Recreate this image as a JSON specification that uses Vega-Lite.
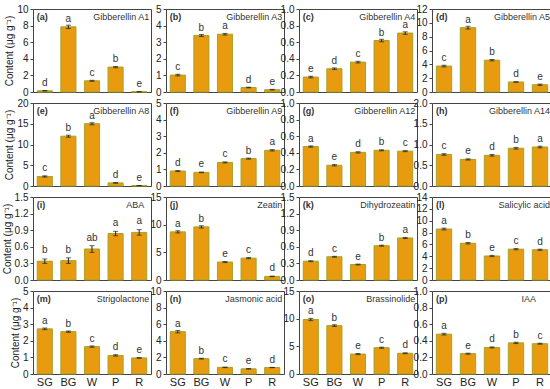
{
  "$schema": "https://vega.github.io/schema/vega-lite/v6.json",
  "padding": {"left": 1, "top": 3, "right": 0, "bottom": 0},
  "background": "white",
  "datasets": {
    "d": [
      {"p":"a","c":"SG","v":0.15,"e":0.03,"l":"d"},{"p":"a","c":"BG","v":7.85,"e":0.2,"l":"a"},{"p":"a","c":"W","v":1.35,"e":0.06,"l":"c"},{"p":"a","c":"P","v":3.0,"e":0.08,"l":"b"},{"p":"a","c":"R","v":0.03,"e":0.01,"l":"e"},
      {"p":"b","c":"SG","v":1.02,"e":0.05,"l":"c"},{"p":"b","c":"BG","v":3.4,"e":0.06,"l":"b"},{"p":"b","c":"W","v":3.48,"e":0.05,"l":"a"},{"p":"b","c":"P","v":0.27,"e":0.02,"l":"d"},{"p":"b","c":"R","v":0.14,"e":0.02,"l":"e"},
      {"p":"c","c":"SG","v":0.18,"e":0.01,"l":"e"},{"p":"c","c":"BG","v":0.28,"e":0.01,"l":"d"},{"p":"c","c":"W","v":0.36,"e":0.01,"l":"c"},{"p":"c","c":"P","v":0.62,"e":0.015,"l":"b"},{"p":"c","c":"R","v":0.71,"e":0.015,"l":"a"},
      {"p":"d","c":"SG","v":3.75,"e":0.12,"l":"c"},{"p":"d","c":"BG","v":9.3,"e":0.2,"l":"a"},{"p":"d","c":"W","v":4.6,"e":0.1,"l":"b"},{"p":"d","c":"P","v":1.45,"e":0.05,"l":"d"},{"p":"d","c":"R","v":1.05,"e":0.1,"l":"e"},
      {"p":"e","c":"SG","v":2.3,"e":0.15,"l":"c"},{"p":"e","c":"BG","v":12.0,"e":0.25,"l":"b"},{"p":"e","c":"W","v":15.0,"e":0.25,"l":"a"},{"p":"e","c":"P","v":0.75,"e":0.08,"l":"d"},{"p":"e","c":"R","v":0.1,"e":0.02,"l":"e"},
      {"p":"f","c":"SG","v":0.9,"e":0.03,"l":"d"},{"p":"f","c":"BG","v":0.82,"e":0.02,"l":"e"},{"p":"f","c":"W","v":1.42,"e":0.03,"l":"c"},{"p":"f","c":"P","v":1.65,"e":0.03,"l":"b"},{"p":"f","c":"R","v":2.15,"e":0.04,"l":"a"},
      {"p":"g","c":"SG","v":0.475,"e":0.008,"l":"a"},{"p":"g","c":"BG","v":0.25,"e":0.008,"l":"e"},{"p":"g","c":"W","v":0.405,"e":0.008,"l":"d"},{"p":"g","c":"P","v":0.43,"e":0.006,"l":"b"},{"p":"g","c":"R","v":0.42,"e":0.006,"l":"c"},
      {"p":"h","c":"SG","v":0.76,"e":0.02,"l":"c"},{"p":"h","c":"BG","v":0.64,"e":0.015,"l":"e"},{"p":"h","c":"W","v":0.74,"e":0.02,"l":"d"},{"p":"h","c":"P","v":0.91,"e":0.02,"l":"b"},{"p":"h","c":"R","v":0.94,"e":0.02,"l":"a"},
      {"p":"i","c":"SG","v":0.34,"e":0.04,"l":"b"},{"p":"i","c":"BG","v":0.35,"e":0.05,"l":"b"},{"p":"i","c":"W","v":0.56,"e":0.06,"l":"ab"},{"p":"i","c":"P","v":0.84,"e":0.04,"l":"a"},{"p":"i","c":"R","v":0.86,"e":0.05,"l":"a"},
      {"p":"j","c":"SG","v":8.7,"e":0.2,"l":"a"},{"p":"j","c":"BG","v":9.6,"e":0.2,"l":"b"},{"p":"j","c":"W","v":3.25,"e":0.1,"l":"e"},{"p":"j","c":"P","v":3.95,"e":0.1,"l":"c"},{"p":"j","c":"R","v":0.65,"e":0.05,"l":"d"},
      {"p":"k","c":"SG","v":0.34,"e":0.008,"l":"d"},{"p":"k","c":"BG","v":0.42,"e":0.008,"l":"c"},{"p":"k","c":"W","v":0.28,"e":0.008,"l":"e"},{"p":"k","c":"P","v":0.62,"e":0.01,"l":"b"},{"p":"k","c":"R","v":0.76,"e":0.01,"l":"a"},
      {"p":"l","c":"SG","v":8.6,"e":0.15,"l":"a"},{"p":"l","c":"BG","v":6.2,"e":0.12,"l":"b"},{"p":"l","c":"W","v":4.05,"e":0.1,"l":"e"},{"p":"l","c":"P","v":5.2,"e":0.1,"l":"c"},{"p":"l","c":"R","v":5.1,"e":0.1,"l":"d"},
      {"p":"m","c":"SG","v":2.72,"e":0.05,"l":"a"},{"p":"m","c":"BG","v":2.55,"e":0.04,"l":"b"},{"p":"m","c":"W","v":1.65,"e":0.04,"l":"c"},{"p":"m","c":"P","v":1.12,"e":0.04,"l":"d"},{"p":"m","c":"R","v":0.97,"e":0.02,"l":"e"},
      {"p":"n","c":"SG","v":5.1,"e":0.15,"l":"a"},{"p":"n","c":"BG","v":1.85,"e":0.05,"l":"b"},{"p":"n","c":"W","v":0.8,"e":0.03,"l":"c"},{"p":"n","c":"P","v":0.62,"e":0.03,"l":"e"},{"p":"n","c":"R","v":0.78,"e":0.02,"l":"d"},
      {"p":"o","c":"SG","v":9.85,"e":0.2,"l":"a"},{"p":"o","c":"BG","v":8.75,"e":0.15,"l":"b"},{"p":"o","c":"W","v":3.6,"e":0.1,"l":"e"},{"p":"o","c":"P","v":4.75,"e":0.1,"l":"c"},{"p":"o","c":"R","v":3.75,"e":0.08,"l":"d"},
      {"p":"p","c":"SG","v":0.48,"e":0.01,"l":"a"},{"p":"p","c":"BG","v":0.245,"e":0.006,"l":"e"},{"p":"p","c":"W","v":0.32,"e":0.006,"l":"d"},{"p":"p","c":"P","v":0.375,"e":0.008,"l":"b"},{"p":"p","c":"R","v":0.365,"e":0.006,"l":"c"}
    ]
  },
  "data": {"name": "d"},
  "columns": 4,
  "bounds": "flush",
  "spacing": {"row": 11, "column": 15},
  "concat": [
    {"width":118,"height":83,"transform":[{"filter":"datum.p=='a'"}],
     "encoding":{"x":{"field":"c","type":"nominal","sort":["SG","BG","W","P","R"],"title":null,"axis":{"labels":false}},
       "y":{"field":"v","type":"quantitative","scale":{"domain":[0,10],"nice":false},"axis":{"values":[0,2,4,6,8,10],"format":"d","title":"Content (μg g⁻¹)"}}},
     "layer":[{"mark":"bar"},
       {"mark":{"type":"errorbar","ticks":{"size":5},"color":"#222"},"encoding":{"yError":{"field":"e"}}},
       {"mark":{"type":"text","baseline":"bottom","dy":-3},"encoding":{"text":{"field":"l"}}},
       {"transform":[{"filter":"datum.c=='SG'"}],"mark":{"type":"text","align":"left","baseline":"middle","dx":-8,"dy":8,"fontWeight":"bold","fontSize":9},"encoding":{"y":{"datum":10},"text":{"value":"(a)"}}},
       {"transform":[{"filter":"datum.c=='R'"}],"mark":{"type":"text","align":"right","baseline":"middle","dx":10,"dy":8,"fontSize":9},"encoding":{"y":{"datum":10},"text":{"value":"Gibberellin A1"}}}]},
    {"width":118,"height":83,"transform":[{"filter":"datum.p=='b'"}],
     "encoding":{"x":{"field":"c","type":"nominal","sort":["SG","BG","W","P","R"],"title":null,"axis":{"labels":false}},
       "y":{"field":"v","type":"quantitative","scale":{"domain":[0,5],"nice":false},"axis":{"values":[0,1,2,3,4,5],"format":"d","title":null}}},
     "layer":[{"mark":"bar"},
       {"mark":{"type":"errorbar","ticks":{"size":5},"color":"#222"},"encoding":{"yError":{"field":"e"}}},
       {"mark":{"type":"text","baseline":"bottom","dy":-3},"encoding":{"text":{"field":"l"}}},
       {"transform":[{"filter":"datum.c=='SG'"}],"mark":{"type":"text","align":"left","baseline":"middle","dx":-8,"dy":8,"fontWeight":"bold","fontSize":9},"encoding":{"y":{"datum":5},"text":{"value":"(b)"}}},
       {"transform":[{"filter":"datum.c=='R'"}],"mark":{"type":"text","align":"right","baseline":"middle","dx":10,"dy":8,"fontSize":9},"encoding":{"y":{"datum":5},"text":{"value":"Gibberellin A3"}}}]},
    {"width":118,"height":83,"transform":[{"filter":"datum.p=='c'"}],
     "encoding":{"x":{"field":"c","type":"nominal","sort":["SG","BG","W","P","R"],"title":null,"axis":{"labels":false}},
       "y":{"field":"v","type":"quantitative","scale":{"domain":[0,1],"nice":false},"axis":{"values":[0,0.2,0.4,0.6,0.8,1.0],"format":".1f","title":null}}},
     "layer":[{"mark":"bar"},
       {"mark":{"type":"errorbar","ticks":{"size":5},"color":"#222"},"encoding":{"yError":{"field":"e"}}},
       {"mark":{"type":"text","baseline":"bottom","dy":-3},"encoding":{"text":{"field":"l"}}},
       {"transform":[{"filter":"datum.c=='SG'"}],"mark":{"type":"text","align":"left","baseline":"middle","dx":-8,"dy":8,"fontWeight":"bold","fontSize":9},"encoding":{"y":{"datum":1},"text":{"value":"(c)"}}},
       {"transform":[{"filter":"datum.c=='R'"}],"mark":{"type":"text","align":"right","baseline":"middle","dx":10,"dy":8,"fontSize":9},"encoding":{"y":{"datum":1},"text":{"value":"Gibberellin A4"}}}]},
    {"width":120,"height":83,"transform":[{"filter":"datum.p=='d'"}],
     "encoding":{"x":{"field":"c","type":"nominal","sort":["SG","BG","W","P","R"],"title":null,"axis":{"labels":false}},
       "y":{"field":"v","type":"quantitative","scale":{"domain":[0,12],"nice":false},"axis":{"values":[0,2,4,6,8,10,12],"format":"d","title":null}}},
     "layer":[{"mark":"bar"},
       {"mark":{"type":"errorbar","ticks":{"size":5},"color":"#222"},"encoding":{"yError":{"field":"e"}}},
       {"mark":{"type":"text","baseline":"bottom","dy":-3},"encoding":{"text":{"field":"l"}}},
       {"transform":[{"filter":"datum.c=='SG'"}],"mark":{"type":"text","align":"left","baseline":"middle","dx":-8,"dy":8,"fontWeight":"bold","fontSize":9},"encoding":{"y":{"datum":12},"text":{"value":"(d)"}}},
       {"transform":[{"filter":"datum.c=='R'"}],"mark":{"type":"text","align":"right","baseline":"middle","dx":10,"dy":8,"fontSize":9},"encoding":{"y":{"datum":12},"text":{"value":"Gibberellin A5"}}}]},

    {"width":118,"height":83,"transform":[{"filter":"datum.p=='e'"}],
     "encoding":{"x":{"field":"c","type":"nominal","sort":["SG","BG","W","P","R"],"title":null,"axis":{"labels":false}},
       "y":{"field":"v","type":"quantitative","scale":{"domain":[0,20],"nice":false},"axis":{"values":[0,5,10,15,20],"format":"d","title":"Content (μg g⁻¹)"}}},
     "layer":[{"mark":"bar"},
       {"mark":{"type":"errorbar","ticks":{"size":5},"color":"#222"},"encoding":{"yError":{"field":"e"}}},
       {"mark":{"type":"text","baseline":"bottom","dy":-3},"encoding":{"text":{"field":"l"}}},
       {"transform":[{"filter":"datum.c=='SG'"}],"mark":{"type":"text","align":"left","baseline":"middle","dx":-8,"dy":8,"fontWeight":"bold","fontSize":9},"encoding":{"y":{"datum":20},"text":{"value":"(e)"}}},
       {"transform":[{"filter":"datum.c=='R'"}],"mark":{"type":"text","align":"right","baseline":"middle","dx":10,"dy":8,"fontSize":9},"encoding":{"y":{"datum":20},"text":{"value":"Gibberellin A8"}}}]},
    {"width":118,"height":83,"transform":[{"filter":"datum.p=='f'"}],
     "encoding":{"x":{"field":"c","type":"nominal","sort":["SG","BG","W","P","R"],"title":null,"axis":{"labels":false}},
       "y":{"field":"v","type":"quantitative","scale":{"domain":[0,5],"nice":false},"axis":{"values":[0,1,2,3,4,5],"format":"d","title":null}}},
     "layer":[{"mark":"bar"},
       {"mark":{"type":"errorbar","ticks":{"size":5},"color":"#222"},"encoding":{"yError":{"field":"e"}}},
       {"mark":{"type":"text","baseline":"bottom","dy":-3},"encoding":{"text":{"field":"l"}}},
       {"transform":[{"filter":"datum.c=='SG'"}],"mark":{"type":"text","align":"left","baseline":"middle","dx":-8,"dy":8,"fontWeight":"bold","fontSize":9},"encoding":{"y":{"datum":5},"text":{"value":"(f)"}}},
       {"transform":[{"filter":"datum.c=='R'"}],"mark":{"type":"text","align":"right","baseline":"middle","dx":10,"dy":8,"fontSize":9},"encoding":{"y":{"datum":5},"text":{"value":"Gibberellin A9"}}}]},
    {"width":118,"height":83,"transform":[{"filter":"datum.p=='g'"}],
     "encoding":{"x":{"field":"c","type":"nominal","sort":["SG","BG","W","P","R"],"title":null,"axis":{"labels":false}},
       "y":{"field":"v","type":"quantitative","scale":{"domain":[0,1],"nice":false},"axis":{"values":[0,0.2,0.4,0.6,0.8,1.0],"format":".1f","title":null}}},
     "layer":[{"mark":"bar"},
       {"mark":{"type":"errorbar","ticks":{"size":5},"color":"#222"},"encoding":{"yError":{"field":"e"}}},
       {"mark":{"type":"text","baseline":"bottom","dy":-3},"encoding":{"text":{"field":"l"}}},
       {"transform":[{"filter":"datum.c=='SG'"}],"mark":{"type":"text","align":"left","baseline":"middle","dx":-8,"dy":8,"fontWeight":"bold","fontSize":9},"encoding":{"y":{"datum":1},"text":{"value":"(g)"}}},
       {"transform":[{"filter":"datum.c=='R'"}],"mark":{"type":"text","align":"right","baseline":"middle","dx":10,"dy":8,"fontSize":9},"encoding":{"y":{"datum":1},"text":{"value":"Gibberellin A12"}}}]},
    {"width":120,"height":83,"transform":[{"filter":"datum.p=='h'"}],
     "encoding":{"x":{"field":"c","type":"nominal","sort":["SG","BG","W","P","R"],"title":null,"axis":{"labels":false}},
       "y":{"field":"v","type":"quantitative","scale":{"domain":[0,2],"nice":false},"axis":{"values":[0,0.5,1.0,1.5,2.0],"format":".1f","title":null}}},
     "layer":[{"mark":"bar"},
       {"mark":{"type":"errorbar","ticks":{"size":5},"color":"#222"},"encoding":{"yError":{"field":"e"}}},
       {"mark":{"type":"text","baseline":"bottom","dy":-3},"encoding":{"text":{"field":"l"}}},
       {"transform":[{"filter":"datum.c=='SG'"}],"mark":{"type":"text","align":"left","baseline":"middle","dx":-8,"dy":8,"fontWeight":"bold","fontSize":9},"encoding":{"y":{"datum":2},"text":{"value":"(h)"}}},
       {"transform":[{"filter":"datum.c=='R'"}],"mark":{"type":"text","align":"right","baseline":"middle","dx":10,"dy":8,"fontSize":9},"encoding":{"y":{"datum":2},"text":{"value":"Gibberellin A14"}}}]},

    {"width":118,"height":83,"transform":[{"filter":"datum.p=='i'"}],
     "encoding":{"x":{"field":"c","type":"nominal","sort":["SG","BG","W","P","R"],"title":null,"axis":{"labels":false}},
       "y":{"field":"v","type":"quantitative","scale":{"domain":[0,1.5],"nice":false},"axis":{"values":[0,0.3,0.6,0.9,1.2,1.5],"format":".1f","title":"Content (μg g⁻¹)"}}},
     "layer":[{"mark":"bar"},
       {"mark":{"type":"errorbar","ticks":{"size":5},"color":"#222"},"encoding":{"yError":{"field":"e"}}},
       {"mark":{"type":"text","baseline":"bottom","dy":-6},"encoding":{"text":{"field":"l"}}},
       {"transform":[{"filter":"datum.c=='SG'"}],"mark":{"type":"text","align":"left","baseline":"middle","dx":-8,"dy":8,"fontWeight":"bold","fontSize":9},"encoding":{"y":{"datum":1.5},"text":{"value":"(i)"}}},
       {"transform":[{"filter":"datum.c=='R'"}],"mark":{"type":"text","align":"right","baseline":"middle","dx":5,"dy":8,"fontSize":9},"encoding":{"y":{"datum":1.5},"text":{"value":"ABA"}}}]},
    {"width":118,"height":83,"transform":[{"filter":"datum.p=='j'"}],
     "encoding":{"x":{"field":"c","type":"nominal","sort":["SG","BG","W","P","R"],"title":null,"axis":{"labels":false}},
       "y":{"field":"v","type":"quantitative","scale":{"domain":[0,15],"nice":false},"axis":{"values":[0,5,10,15],"format":"d","title":null}}},
     "layer":[{"mark":"bar"},
       {"mark":{"type":"errorbar","ticks":{"size":5},"color":"#222"},"encoding":{"yError":{"field":"e"}}},
       {"mark":{"type":"text","baseline":"bottom","dy":-3},"encoding":{"text":{"field":"l"}}},
       {"transform":[{"filter":"datum.c=='SG'"}],"mark":{"type":"text","align":"left","baseline":"middle","dx":-8,"dy":8,"fontWeight":"bold","fontSize":9},"encoding":{"y":{"datum":15},"text":{"value":"(j)"}}},
       {"transform":[{"filter":"datum.c=='R'"}],"mark":{"type":"text","align":"right","baseline":"middle","dx":10,"dy":8,"fontSize":9},"encoding":{"y":{"datum":15},"text":{"value":"Zeatin"}}}]},
    {"width":118,"height":83,"transform":[{"filter":"datum.p=='k'"}],
     "encoding":{"x":{"field":"c","type":"nominal","sort":["SG","BG","W","P","R"],"title":null,"axis":{"labels":false}},
       "y":{"field":"v","type":"quantitative","scale":{"domain":[0,1.5],"nice":false},"axis":{"values":[0,0.3,0.6,0.9,1.2,1.5],"format":".1f","title":null}}},
     "layer":[{"mark":"bar"},
       {"mark":{"type":"errorbar","ticks":{"size":5},"color":"#222"},"encoding":{"yError":{"field":"e"}}},
       {"mark":{"type":"text","baseline":"bottom","dy":-3},"encoding":{"text":{"field":"l"}}},
       {"transform":[{"filter":"datum.c=='SG'"}],"mark":{"type":"text","align":"left","baseline":"middle","dx":-8,"dy":8,"fontWeight":"bold","fontSize":9},"encoding":{"y":{"datum":1.5},"text":{"value":"(k)"}}},
       {"transform":[{"filter":"datum.c=='R'"}],"mark":{"type":"text","align":"right","baseline":"middle","dx":10,"dy":8,"fontSize":9},"encoding":{"y":{"datum":1.5},"text":{"value":"Dihydrozeatin"}}}]},
    {"width":120,"height":83,"transform":[{"filter":"datum.p=='l'"}],
     "encoding":{"x":{"field":"c","type":"nominal","sort":["SG","BG","W","P","R"],"title":null,"axis":{"labels":false}},
       "y":{"field":"v","type":"quantitative","scale":{"domain":[0,14],"nice":false},"axis":{"values":[0,2,4,6,8,10,12,14],"format":"d","title":null}}},
     "layer":[{"mark":"bar"},
       {"mark":{"type":"errorbar","ticks":{"size":5},"color":"#222"},"encoding":{"yError":{"field":"e"}}},
       {"mark":{"type":"text","baseline":"bottom","dy":-3},"encoding":{"text":{"field":"l"}}},
       {"transform":[{"filter":"datum.c=='SG'"}],"mark":{"type":"text","align":"left","baseline":"middle","dx":-8,"dy":8,"fontWeight":"bold","fontSize":9},"encoding":{"y":{"datum":14},"text":{"value":"(l)"}}},
       {"transform":[{"filter":"datum.c=='R'"}],"mark":{"type":"text","align":"right","baseline":"middle","dx":10,"dy":8,"fontSize":9},"encoding":{"y":{"datum":14},"text":{"value":"Salicylic acid"}}}]},

    {"width":118,"height":83,"transform":[{"filter":"datum.p=='m'"}],
     "encoding":{"x":{"field":"c","type":"nominal","sort":["SG","BG","W","P","R"],"title":null,"axis":{"labels":true}},
       "y":{"field":"v","type":"quantitative","scale":{"domain":[0,5],"nice":false},"axis":{"values":[0,1,2,3,4,5],"format":"d","title":"Content (μg g⁻¹)"}}},
     "layer":[{"mark":"bar"},
       {"mark":{"type":"errorbar","ticks":{"size":5},"color":"#222"},"encoding":{"yError":{"field":"e"}}},
       {"mark":{"type":"text","baseline":"bottom","dy":-3},"encoding":{"text":{"field":"l"}}},
       {"transform":[{"filter":"datum.c=='SG'"}],"mark":{"type":"text","align":"left","baseline":"middle","dx":-8,"dy":8,"fontWeight":"bold","fontSize":9},"encoding":{"y":{"datum":5},"text":{"value":"(m)"}}},
       {"transform":[{"filter":"datum.c=='R'"}],"mark":{"type":"text","align":"right","baseline":"middle","dx":10,"dy":8,"fontSize":9},"encoding":{"y":{"datum":5},"text":{"value":"Strigolactone"}}}]},
    {"width":118,"height":83,"transform":[{"filter":"datum.p=='n'"}],
     "encoding":{"x":{"field":"c","type":"nominal","sort":["SG","BG","W","P","R"],"title":null,"axis":{"labels":true}},
       "y":{"field":"v","type":"quantitative","scale":{"domain":[0,10],"nice":false},"axis":{"values":[0,2,4,6,8,10],"format":"d","title":null}}},
     "layer":[{"mark":"bar"},
       {"mark":{"type":"errorbar","ticks":{"size":5},"color":"#222"},"encoding":{"yError":{"field":"e"}}},
       {"mark":{"type":"text","baseline":"bottom","dy":-3},"encoding":{"text":{"field":"l"}}},
       {"transform":[{"filter":"datum.c=='SG'"}],"mark":{"type":"text","align":"left","baseline":"middle","dx":-8,"dy":8,"fontWeight":"bold","fontSize":9},"encoding":{"y":{"datum":10},"text":{"value":"(n)"}}},
       {"transform":[{"filter":"datum.c=='R'"}],"mark":{"type":"text","align":"right","baseline":"middle","dx":10,"dy":8,"fontSize":9},"encoding":{"y":{"datum":10},"text":{"value":"Jasmonic acid"}}}]},
    {"width":118,"height":83,"transform":[{"filter":"datum.p=='o'"}],
     "encoding":{"x":{"field":"c","type":"nominal","sort":["SG","BG","W","P","R"],"title":null,"axis":{"labels":true}},
       "y":{"field":"v","type":"quantitative","scale":{"domain":[0,15],"nice":false},"axis":{"values":[0,5,10,15],"format":"d","title":null}}},
     "layer":[{"mark":"bar"},
       {"mark":{"type":"errorbar","ticks":{"size":5},"color":"#222"},"encoding":{"yError":{"field":"e"}}},
       {"mark":{"type":"text","baseline":"bottom","dy":-3},"encoding":{"text":{"field":"l"}}},
       {"transform":[{"filter":"datum.c=='SG'"}],"mark":{"type":"text","align":"left","baseline":"middle","dx":-8,"dy":8,"fontWeight":"bold","fontSize":9},"encoding":{"y":{"datum":15},"text":{"value":"(o)"}}},
       {"transform":[{"filter":"datum.c=='R'"}],"mark":{"type":"text","align":"right","baseline":"middle","dx":10,"dy":8,"fontSize":9},"encoding":{"y":{"datum":15},"text":{"value":"Brassinolide"}}}]},
    {"width":120,"height":83,"transform":[{"filter":"datum.p=='p'"}],
     "encoding":{"x":{"field":"c","type":"nominal","sort":["SG","BG","W","P","R"],"title":null,"axis":{"labels":true}},
       "y":{"field":"v","type":"quantitative","scale":{"domain":[0,1],"nice":false},"axis":{"values":[0,0.2,0.4,0.6,0.8,1.0],"format":".1f","title":null}}},
     "layer":[{"mark":"bar"},
       {"mark":{"type":"errorbar","ticks":{"size":5},"color":"#222"},"encoding":{"yError":{"field":"e"}}},
       {"mark":{"type":"text","baseline":"bottom","dy":-3},"encoding":{"text":{"field":"l"}}},
       {"transform":[{"filter":"datum.c=='SG'"}],"mark":{"type":"text","align":"left","baseline":"middle","dx":-8,"dy":8,"fontWeight":"bold","fontSize":9},"encoding":{"y":{"datum":1},"text":{"value":"(p)"}}},
       {"transform":[{"filter":"datum.c=='R'"}],"mark":{"type":"text","align":"right","baseline":"middle","dx":-4,"dy":8,"fontSize":9},"encoding":{"y":{"datum":1},"text":{"value":"IAA"}}}]}
  ],
  "config": {
    "font": "Liberation Sans",
    "view": {"stroke": "#444", "strokeWidth": 1},
    "scale": {"bandPaddingInner": 0.36, "bandPaddingOuter": 0.18},
    "axis": {"grid": false, "domain": false, "labelFont": "Liberation Sans", "labelFontSize": 10, "labelColor": "#222", "tickColor": "#444", "tickSize": 3, "titleFont": "Liberation Sans", "titleFontSize": 10, "titleFontWeight": "normal", "titleColor": "#222", "titlePadding": 2, "labelPadding": 2},
    "axisX": {"ticks": false, "labelFontSize": 11, "labelAngle": 0, "labelPadding": 2},
    "bar": {"fill": "#E89B0F", "stroke": "#A3A32A", "strokeWidth": 1},
    "text": {"font": "Liberation Sans", "fontSize": 10, "color": "#333"}
  }
}
